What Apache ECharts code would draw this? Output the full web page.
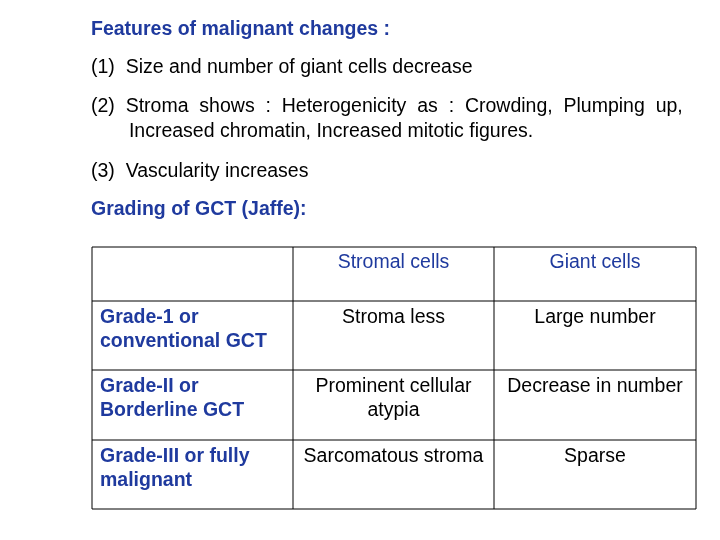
<!DOCTYPE html>
<html><head><meta charset="utf-8">
<script src="https://cdn.jsdelivr.net/npm/echarts@6/dist/echarts.min.js"></script>
<style>html,body{margin:0;padding:0;background:#fff}#c{width:720px;height:540px}</style>
</head><body><div id="c"></div>
<script>
const headings = ["Features of malignant changes :", "Grading of GCT (Jaffe):"];
const bodyLines = [
  ["(1)  Size and number of giant cells decrease", 68],
  ["(2)  Stroma  shows  :  Heterogenicity  as  :  Crowding,  Plumping  up,", 107],
  ["       Increased chromatin, Increased mitotic figures.", 132],
  ["(3)  Vascularity increases", 172]
];
const colHeaders = ["Stromal cells", "Giant cells"];
const rowLabels = ["Grade-1 or\nconventional GCT", "Grade-II or\nBorderline GCT", "Grade-III or fully\nmalignant"];
const stromal = ["Stroma less", "Prominent cellular\natypia", "Sarcomatous stroma"];
const giant = ["Large number", "Decrease in number", "Sparse"];

const colX = [92, 293, 494, 696];
const rowY = [247, 301, 370, 440, 509];
const blue = "#1f3a9e";
const font = "Liberation Sans, Arial, sans-serif";
const fs = 19.5;
const g = [];
function txt(s, x, y, opt) {
  g.push({type:'text', x, y, style:Object.assign({text:s, fontFamily:font, fontSize:fs, fill:'#000', textVerticalAlign:'middle', lineHeight:24}, opt||{})});
}
txt(headings[0], 91, 30, {fill:blue, fontWeight:'bold'});
bodyLines.forEach(([s,y]) => txt(s, 91, y));
txt(headings[1], 91, 210, {fill:blue, fontWeight:'bold'});
rowY.forEach(y => g.push({type:'line', shape:{x1:colX[0], y1:y, x2:colX[3], y2:y}, style:{stroke:'#000', lineWidth:1}}));
colX.forEach(x => g.push({type:'line', shape:{x1:x, y1:rowY[0], x2:x, y2:rowY[4]}, style:{stroke:'#000', lineWidth:1}}));
txt(colHeaders[0], (colX[1]+colX[2])/2, 263, {fill:blue, textAlign:'center'});
txt(colHeaders[1], (colX[2]+colX[3])/2, 263, {fill:blue, textAlign:'center'});
for (let i=0;i<3;i++){
  const top = rowY[i+1]+5;
  g.push({type:'text', x:100, y:top, style:{text:rowLabels[i], fontFamily:font, fontSize:fs, fontWeight:'bold', fill:blue, lineHeight:24}});
  g.push({type:'text', x:(colX[1]+colX[2])/2, y:top, style:{text:stromal[i], fontFamily:font, fontSize:fs, fill:'#000', textAlign:'center', lineHeight:24}});
  g.push({type:'text', x:(colX[2]+colX[3])/2, y:top, style:{text:giant[i], fontFamily:font, fontSize:fs, fill:'#000', textAlign:'center', lineHeight:24}});
}
const chart = echarts.init(document.getElementById('c'));
chart.setOption({animation:false, graphic:g});
</script></body></html>
